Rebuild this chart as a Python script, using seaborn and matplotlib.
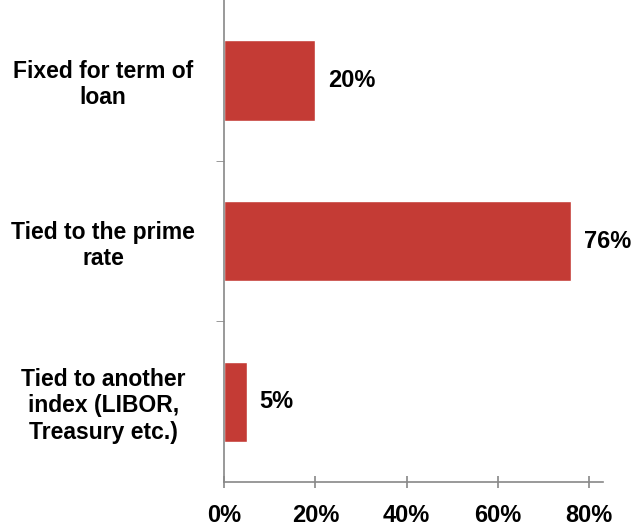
import numpy as np
import pandas as pd
import seaborn as sns
import matplotlib.pyplot as plt

# Data
categories = ["Fixed for term of\nloan", "Tied to the prime\nrate",
              "Tied to another\nindex (LIBOR,\nTreasury etc.)"]
shares = [0.20, 0.76, 0.05]
labels = ["20%", "76%", "5%"]

df = pd.DataFrame({"cat": categories, "share": shares})

sns.set_style("white")
plt.rcParams['font.family'] = ['Liberation Sans', 'DejaVu Sans']
plt.rcParams['text.color'] = 'black'
plt.rcParams['xtick.color'] = 'black'
plt.rcParams['ytick.color'] = 'black'

fig = plt.figure(figsize=(6.36, 5.29), dpi=100)
ax = fig.add_axes([224 / 636, 47 / 529, 379 / 636, 482 / 529])

sns.barplot(data=df, x="share", y="cat", color="#C43B35", saturation=1,
            width=0.5, ax=ax, orient="h")

for i, (v, t) in enumerate(zip(shares, labels)):
    ax.text(v + 0.028, i, t, va="center", ha="left", fontsize=17, fontweight="bold")

ax.set_xlim(0, 0.83)
ax.set_ylim(2.5, -0.5)
ax.set_xticks([0, 0.2, 0.4, 0.6, 0.8])
ax.set_xticklabels(["0%", "20%", "40%", "60%", "80%"], fontsize=17, fontweight="bold")
ax.set_yticks([0, 1, 2])
ax.set_yticklabels(categories, fontsize=16.5, fontweight="bold", ha="center")
ax.tick_params(axis="y", length=0, pad=87)
ax.set_yticks([0.5, 1.5], minor=True)
ax.tick_params(axis="y", which="minor", length=6, color="#888888", direction="out", left=True)
ax.tick_params(axis="x", length=8, width=1.2, color="#888888", direction="inout", bottom=True, pad=12)
ax.set_xlabel("")
ax.set_ylabel("")
for s in ["top", "right"]:
    ax.spines[s].set_visible(False)
for s in ["left", "bottom"]:
    ax.spines[s].set_color("#888888")
    ax.spines[s].set_linewidth(1.2)

fig.savefig("out.png", dpi=100)
